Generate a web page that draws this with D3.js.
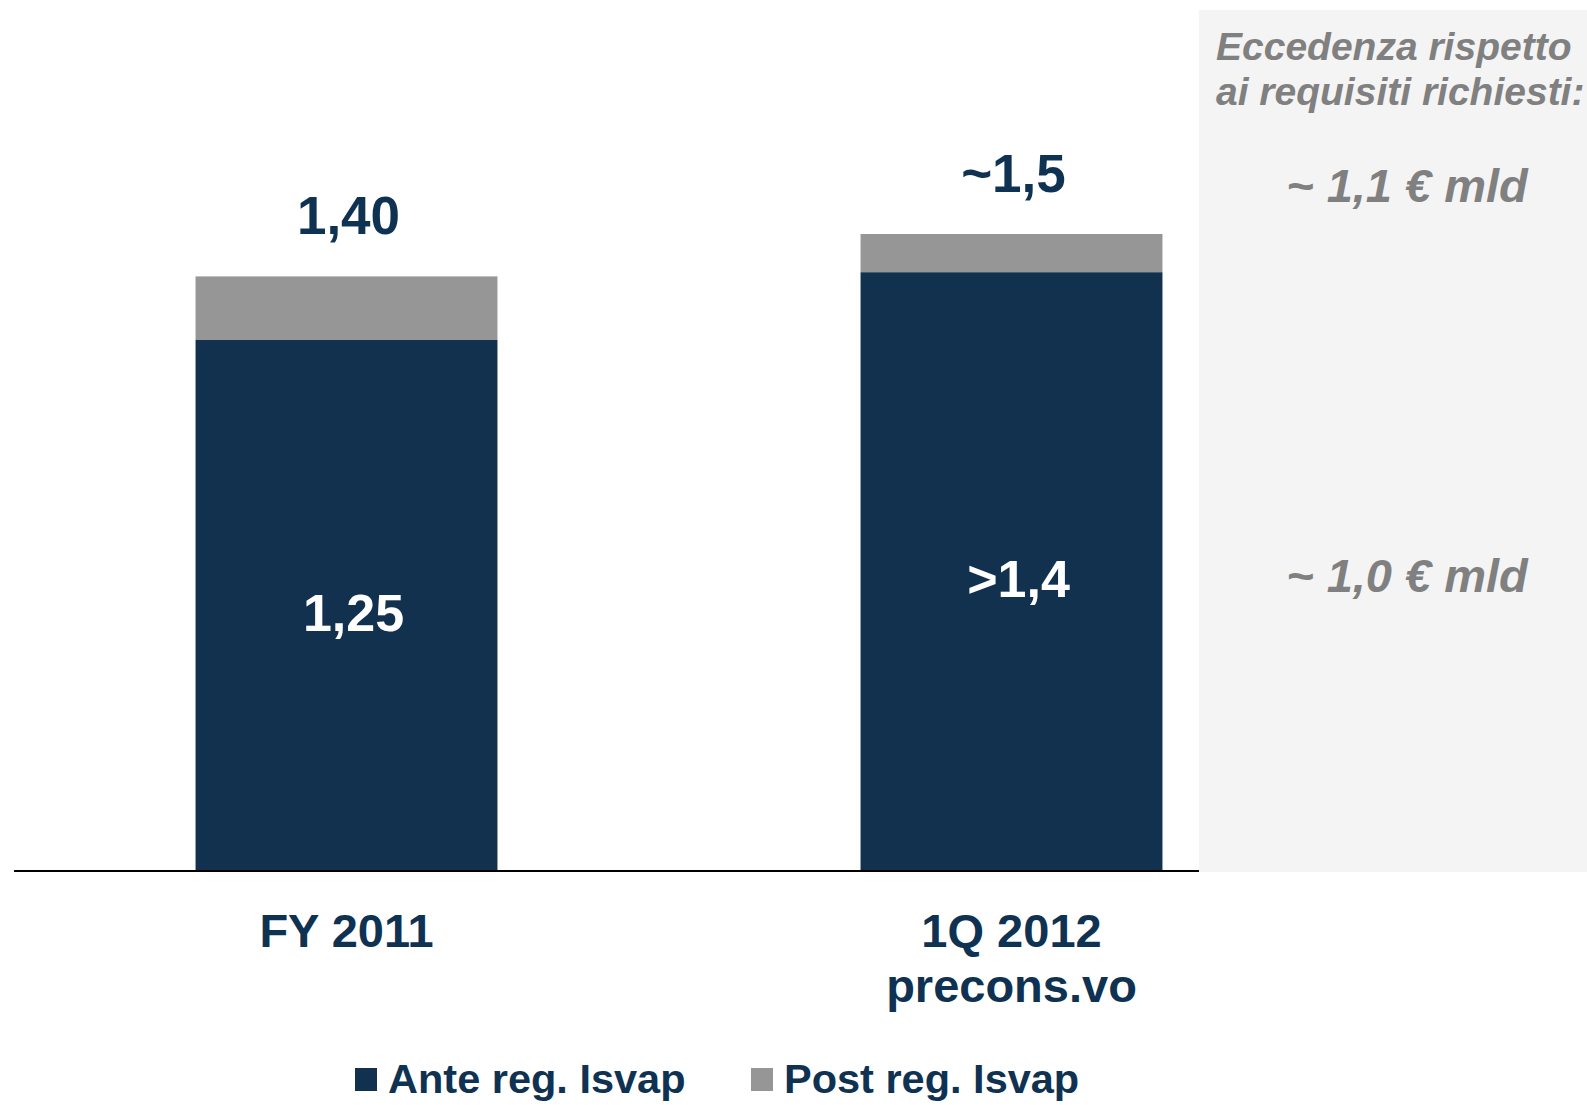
<!DOCTYPE html>
<html>
<head>
<meta charset="utf-8">
<script src="https://cdn.jsdelivr.net/npm/d3@7"></script>
<style>
  html, body { margin: 0; padding: 0; background: #ffffff; }
  svg { display: block; font-family: "Liberation Sans", Arial, sans-serif; }
</style>
</head>
<body>
<svg id="chart" width="1587" height="1105"></svg>
<script>
// Periods on the x axis (each label may span two lines)
const categories = ["FY 2011", "1Q 2012"];
const categoryLines = [["FY 2011"], ["1Q 2012", "precons.vo"]];

// Solvency margin, € bn: before and after the Isvap regulation
const anteValues = [1.25, 1.41];
const totalValues = [1.40, 1.50];
const postValues = totalValues.map((t, i) => +(t - anteValues[i]).toFixed(2));

// Value labels as printed
const totalLabels = ["1,40", "~1,5"];
const anteLabels = ["1,25", ">1,4"];

// Side panel: excess over required levels
const panelTitle = ["Eccedenza rispetto", "ai requisiti richiesti:"];
const panelValues = ["~ 1,1 € mld", "~ 1,0 € mld"];

const seriesNames = ["Ante reg. Isvap", "Post reg. Isvap"];

const NAVY = "#11314f";
const TEXT_NAVY = "#0f3252";
const GREY = "#969696";
const PANEL_BG = "#f4f4f4";
const PANEL_TEXT = "#808080";

const svg = d3.select("#chart");

// Scales
const x = d3.scaleBand()
  .domain(categories)
  .range([14, 1344])
  .paddingInner(0.546)
  .paddingOuter(0.273);

const y = d3.scaleLinear()
  .domain([0, 1.5])
  .range([870, 234]);

// Side panel background
svg.append("rect")
  .attr("x", 1199).attr("y", 10)
  .attr("width", 1587 - 1199).attr("height", 862)
  .attr("fill", PANEL_BG);

// Stacked data
const stackData = categories.map((c, i) => ({ cat: c, ante: anteValues[i], post: postValues[i] }));
const stack = d3.stack().keys(["ante", "post"]);
const layers = stack(stackData);
const colors = { ante: NAVY, post: GREY };

svg.append("g").selectAll("g")
  .data(layers)
  .join("g")
  .attr("fill", d => colors[d.key])
  .selectAll("rect")
  .data(d => d)
  .join("rect")
  .attr("x", d => x(d.data.cat))
  .attr("width", x.bandwidth())
  .attr("y", d => y(d[1]))
  .attr("height", d => y(d[0]) - y(d[1]));

// Baseline
svg.append("line")
  .attr("x1", 14).attr("x2", 1199)
  .attr("y1", y(0) + 1).attr("y2", y(0) + 1)
  .attr("stroke", "#000").attr("stroke-width", 2);

// Totals above bars
svg.append("g").selectAll("text")
  .data(categories)
  .join("text")
  .attr("x", d => x(d) + x.bandwidth() / 2 + 2)
  .attr("y", (d, i) => y(totalValues[i]) - 42)
  .attr("text-anchor", "middle")
  .attr("font-size", 53).attr("font-weight", "bold")
  .attr("fill", TEXT_NAVY)
  .text((d, i) => totalLabels[i]);

// Labels inside the navy segment
svg.append("g").selectAll("text")
  .data(categories)
  .join("text")
  .attr("x", d => x(d) + x.bandwidth() / 2 + 7)
  .attr("y", (d, i) => (y(anteValues[i]) + y(0)) / 2 + 26)
  .attr("text-anchor", "middle")
  .attr("font-size", 52).attr("font-weight", "bold")
  .attr("fill", "#ffffff")
  .text((d, i) => anteLabels[i]);

// Category labels
const catG = svg.append("g").selectAll("text")
  .data(categories)
  .join("text")
  .attr("x", d => x(d) + x.bandwidth() / 2)
  .attr("y", 947)
  .attr("text-anchor", "middle")
  .attr("font-size", 47).attr("font-weight", "bold")
  .attr("fill", TEXT_NAVY);
catG.selectAll("tspan")
  .data((d, i) => categoryLines[i])
  .join("tspan")
  .attr("x", function () { return d3.select(this.parentNode).attr("x"); })
  .attr("dy", (d, j) => j === 0 ? 0 : 55)
  .text(d => d);

// Side panel texts
svg.append("g").selectAll("text")
  .data(panelTitle)
  .join("text")
  .attr("x", 1216)
  .attr("y", (d, i) => 60 + i * 45)
  .attr("font-size", 39).attr("font-weight", "bold").attr("font-style", "italic")
  .attr("fill", PANEL_TEXT)
  .text(d => d);

const panelY = [202, 592];
svg.append("g").selectAll("text")
  .data(panelValues)
  .join("text")
  .attr("x", 1407)
  .attr("y", (d, i) => panelY[i])
  .attr("text-anchor", "middle")
  .attr("font-size", 47).attr("font-weight", "bold").attr("font-style", "italic")
  .attr("fill", PANEL_TEXT)
  .text(d => d);

// Legend
const legendX = [355, 751];
const legend = svg.append("g").selectAll("g")
  .data(seriesNames)
  .join("g")
  .attr("transform", (d, i) => `translate(${legendX[i]},1068)`);
legend.append("rect")
  .attr("width", 22).attr("height", 23)
  .attr("fill", (d, i) => i === 0 ? NAVY : GREY);
legend.append("text")
  .attr("x", 33).attr("y", 25)
  .attr("font-size", 41.5).attr("font-weight", "bold")
  .attr("fill", TEXT_NAVY)
  .text(d => d);
</script>
</body>
</html>
